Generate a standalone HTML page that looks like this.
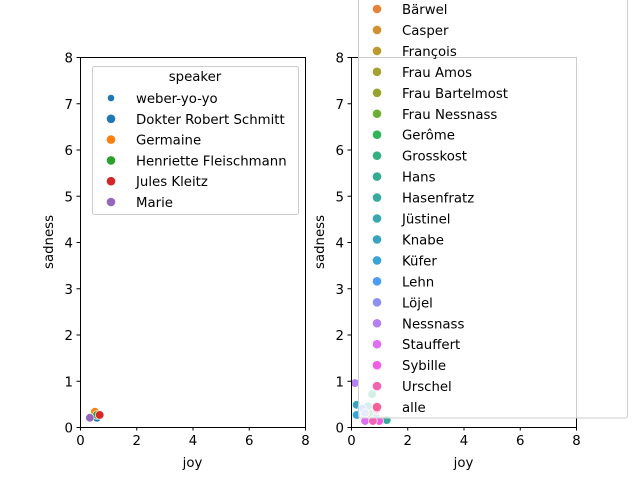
<!DOCTYPE html>
<html><head><meta charset="utf-8"><style>
body{margin:0;background:#fff}
svg{font-family:"DejaVu Sans","Liberation Sans",sans-serif}
</style></head><body>
<svg id="c" width="640" height="480" viewBox="0 0 640 480"></svg>
<script>
const leftSpeakers=["Dokter Robert Schmitt","Germaine","Henriette Fleischmann","Jules Kleitz","Marie"];
const leftColors=["#1f77b4","#ff7f0e","#2ca02c","#d62728","#9467bd"];
const leftJoy=[0.6,0.53,0.6,0.7,0.35];
const leftSad=[0.2,0.33,0.26,0.26,0.2];
const rightSpeakers=["Bärwel","Casper","François","Frau Amos","Frau Bartelmost","Frau Nessnass","Gerôme","Grosskost","Hans","Hasenfratz","Jüstinel","Knabe","Küfer","Lehn","Löjel","Nessnass","Stauffert","Sybille","Urschel","alle"];
const rightColors=["#e58139","#d1902f","#bb9b30","#a7a032","#98a22f","#6fad36","#2fb457","#33b07f","#35ab92","#37aaa0","#39a7ad","#3aa4c0","#3aa3d8","#4a9cf5","#8c8ff4","#b382f0","#de6ff2","#f25ce0","#f463b0","#f5629a"];
const rightJoy=[0.9,1.1,0.8,0.6,0.55,0.7,0.65,0.75,0.9,1.27,0.6,0.2,0.2,0.4,0.5,0.14,0.5,1.0,0.78,0.9];
const rightSad=[0.2,0.15,0.2,0.3,0.4,0.35,0.3,0.71,0.2,0.15,0.45,0.48,0.26,0.4,0.3,0.95,0.13,0.13,0.13,0.37];
const xTicks=[0,2,4,6,8];
const yTicks=[0,1,2,3,4,5,6,7,8];
const NS="http://www.w3.org/2000/svg";
const svg=document.getElementById('c');
function mk(t,a,p){const e=document.createElementNS(NS,t);for(const k in a)e.setAttribute(k,a[k]);(p||svg).appendChild(e);return e;}
const T=57,B=427;
function sx(x0,v){return x0+v*(225/8);}
function sy(v){return B-v*((B-T)/8);}
function axes(x0,name,joy,sad,cols){
  const g=mk('g',{});
  
  
  for(let i=0;i<joy.length;i++){
    const c=mk('circle',{cx:sx(x0,joy[i]),cy:sy(sad[i]),r:4.3,fill:cols[i],stroke:'#fff','stroke-width':0.7},g);
    
    
  }
  const sp=mk('rect',{x:x0+0.5,y:T+0.5,width:225,height:B-T,fill:'none',stroke:'#000','stroke-width':1},g);
  
  
  xTicks.forEach(v=>{const x=sx(x0,v)+0.5;mk('line',{x1:x,x2:x,y1:B,y2:B+3.5,stroke:'#000'},g);
    const t=mk('text',{x:x,y:B+18,'font-size':13.3,'text-anchor':'middle'},g);t.textContent=v;
    
    });
  yTicks.forEach(v=>{const y=sy(v)+0.5;mk('line',{x1:x0-3.5,x2:x0,y1:y,y2:y,stroke:'#000'},g);
    const t=mk('text',{x:x0-7,y:y+5,'font-size':13.3,'text-anchor':'end'},g);t.textContent=v;
    
    });
  const xl=mk('text',{x:x0+112.5,y:467,'font-size':13.3,'text-anchor':'middle'},g);xl.textContent='joy';
  
  
  const yl=mk('text',{x:0,y:0,'font-size':13.3,'text-anchor':'middle',transform:`translate(${x0-27},242) rotate(-90)`},g);yl.textContent='sadness';
  
  
}
axes(80,'left-plot',leftJoy,leftSad,leftColors);
axes(351,'right-plot',rightJoy,rightSad,rightColors);
const lg=mk('g',{});


mk('rect',{x:92.5,y:66.5,width:206,height:148,rx:2,fill:'#fff','fill-opacity':0.8,stroke:'#ccc'},lg);
const tt=mk('text',{x:195,y:81,'font-size':13.3,'text-anchor':'middle'},lg);tt.textContent='speaker';
const lEntries=["weber-yo-yo"].concat(leftSpeakers);
const lCols=["#1f77b4"].concat(leftColors);
lEntries.forEach((n,i)=>{const y=98+i*20.8;
  mk('circle',{cx:111,cy:y,r:i==0?3.3:4.3,fill:lCols[i]},lg);
  const t=mk('text',{x:136,y:y+5,'font-size':13.3},lg);t.textContent=n;
  
  });
const rg=mk('g',{});


mk('rect',{x:358.5,y:-100,width:269,height:518,rx:2,fill:'#fff','fill-opacity':0.8,stroke:'#ccc'},rg);
rightSpeakers.forEach((n,i)=>{const y=9+i*20.95;
  mk('circle',{cx:377,cy:y,r:4.3,fill:rightColors[i]},rg);
  const t=mk('text',{x:402,y:y+5,'font-size':13.3},rg);t.textContent=n;
  
  });
</script>
</body></html>
